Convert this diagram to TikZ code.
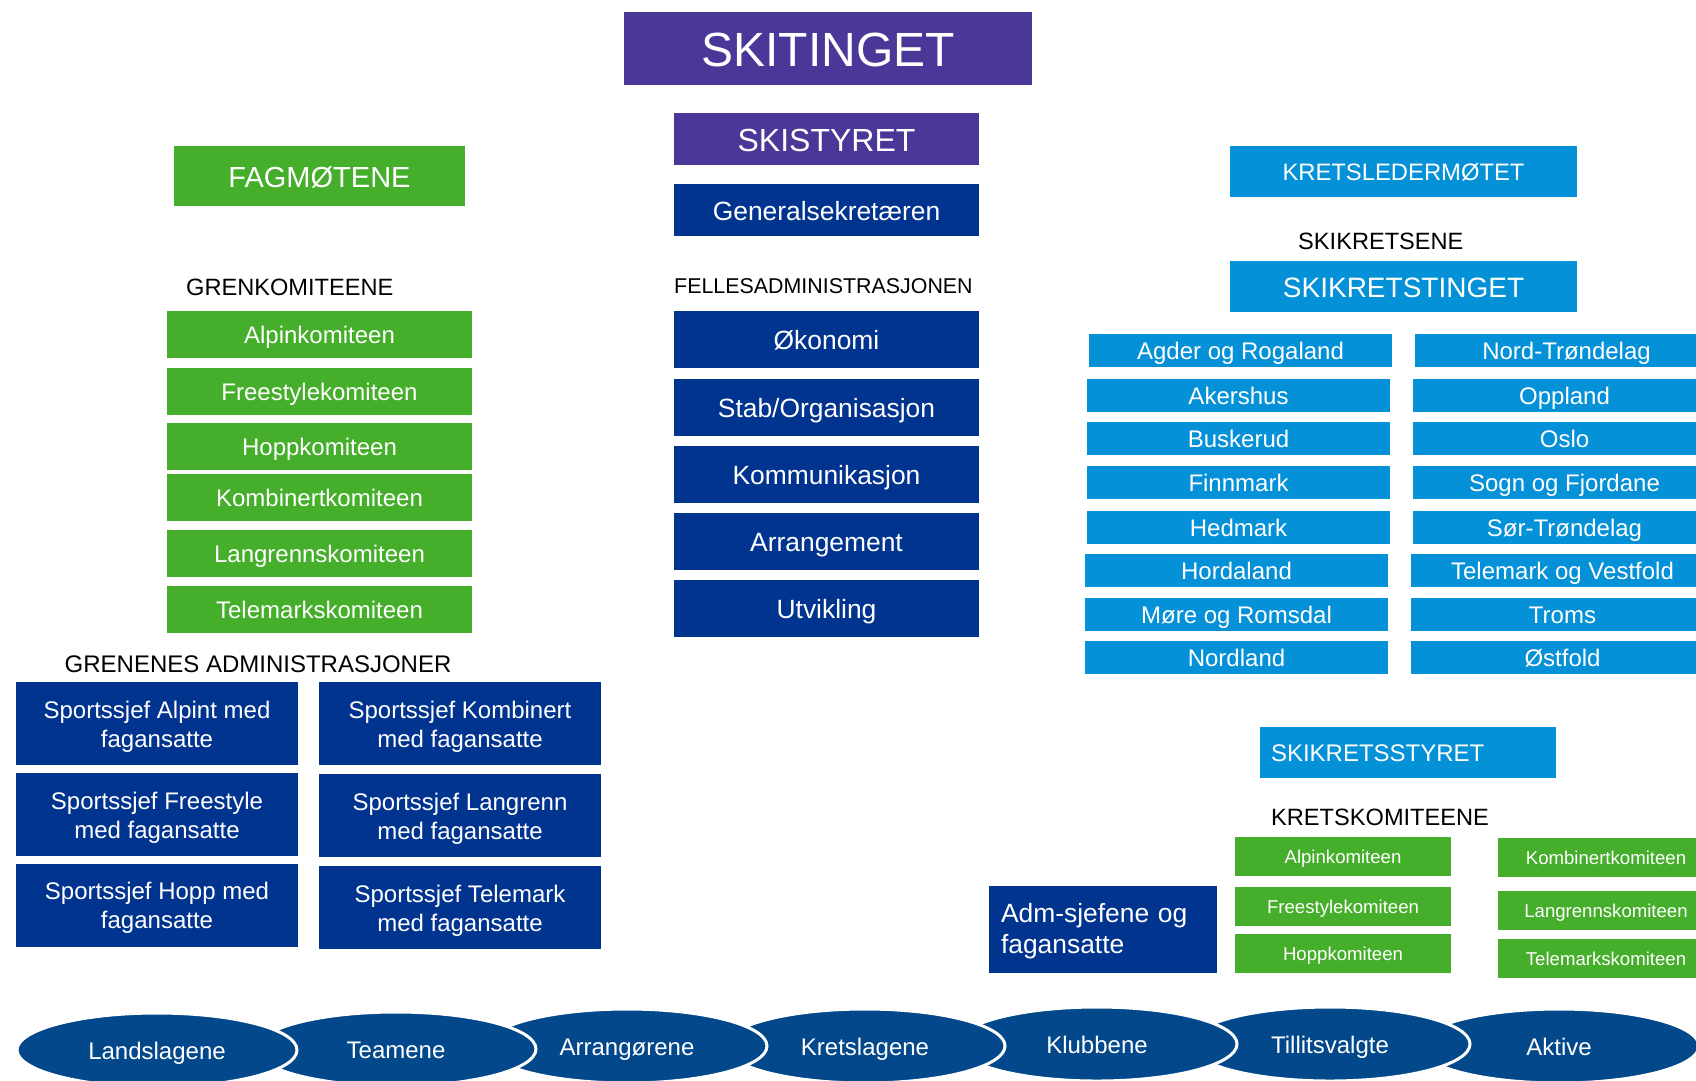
\documentclass[tikz,border=0pt]{standalone}
\usepackage{fontspec}
\setmainfont{Liberation Sans}
\usetikzlibrary{shapes.geometric}
\definecolor{skipurple}{HTML}{4A3797}
\definecolor{skinavy}{HTML}{00348F}
\definecolor{skigreen}{HTML}{45AF2B}
\definecolor{skisky}{HTML}{0591D8}
\definecolor{skioval}{HTML}{03488B}
\newcommand{\colw}{305pt}
\newcommand{\regw}{303pt}
\newcommand{\regh}{33pt}
\newcommand{\sjefw}{282pt}
\newcommand{\smallw}{216pt}
\tikzset{
  txt/.style 2 args={font=\fontsize{#1}{#2}\selectfont, text height=0.82*#1pt, text depth=0.05*#1pt},
  plate/.style={rectangle, inner sep=0pt, outer sep=0pt, text=white, align=center},
  purpleplate/.style={plate, fill=skipurple},
  navyplate/.style={plate, fill=skinavy},
  greenplate/.style={plate, fill=skigreen},
  skyplate/.style={plate, fill=skisky},
  sjefplate/.style={navyplate, txt={24}{29}, text height=48.7pt, minimum width=\sjefw, minimum height=83pt},
  tag/.style={inner sep=0pt, anchor=base west, text=black, font=\fontsize{23.6}{28}\selectfont},
  oval/.style={ellipse, fill=skioval, draw=white, line width=3pt, minimum width=280pt, minimum height=74pt, inner sep=0pt, text=white, txt={24}{29}}
}
\begin{document}
\begin{tikzpicture}[x=1pt, y=-1pt]
\clip (0,0) rectangle (1696,1080);
%skitinget
\node[purpleplate, txt={48}{58}, minimum width=408pt, minimum height=73pt] (skiting) at (828, 48.5) {SKITINGET};
\node[purpleplate, txt={32}{38}, minimum width=\colw, minimum height=52pt] (skistyret) at (826.5, 139) {SKISTYRET};
\node[navyplate, txt={26.4}{32}, minimum width=\colw, minimum height=52pt] (gensek) at (826.5, 210) {Generalsekretæren};
%fellesadministrasjonen
\node[tag, font=\fontsize{21.4}{26}\selectfont] (felles) at (674, 293.3) {FELLESADMINISTRASJONEN};
\node[navyplate, txt={26.4}{32}, minimum width=\colw, minimum height=57pt] (okonomi) at (826.5, 339.5) {Økonomi};
\node[navyplate, txt={26.4}{32}, minimum width=\colw, minimum height=57pt] (stab) at (826.5, 407.5) {Stab/Organisasjon};
\node[navyplate, txt={26.4}{32}, minimum width=\colw, minimum height=57pt] (kommunikasjon) at (826.5, 474.5) {Kommunikasjon};
\node[navyplate, txt={26.4}{32}, minimum width=\colw, minimum height=57pt] (arrangement) at (826.5, 541.5) {Arrangement};
\node[navyplate, txt={26.4}{32}, minimum width=\colw, minimum height=57pt] (utvikling) at (826.5, 608.5) {Utvikling};
%fagmotene
\node[greenplate, txt={29}{35}, minimum width=291pt, minimum height=60pt] (fagmotene) at (319.5, 176) {FAGMØTENE};
\node[tag] (grenkom) at (186, 295.7) {GRENKOMITEENE};
\node[greenplate, txt={24}{29}, minimum width=\colw, minimum height=47pt] (alpin) at (319.5, 334.5) {Alpinkomiteen};
\node[greenplate, txt={24}{29}, minimum width=\colw, minimum height=47pt] (freestyle) at (319.5, 391.5) {Freestylekomiteen};
\node[greenplate, txt={24}{29}, minimum width=\colw, minimum height=47pt] (hopp) at (319.5, 446.5) {Hoppkomiteen};
\node[greenplate, txt={24}{29}, minimum width=\colw, minimum height=47pt] (kombinert) at (319.5, 497.5) {Kombinertkomiteen};
\node[greenplate, txt={24}{29}, minimum width=\colw, minimum height=47pt] (langrenn) at (319.5, 553.5) {Langrennskomiteen};
\node[greenplate, txt={24}{29}, minimum width=\colw, minimum height=47pt] (telemark) at (319.5, 609.5) {Telemarkskomiteen};
%grenenes administrasjoner
\node[tag, font=\fontsize{24}{29}\selectfont] (grenadm) at (64.5, 672.3) {GRENENES ADMINISTRASJONER};
\node[sjefplate] (sjefalpin) at (157, 723.5) {Sportssjef Alpint med\\fagansatte};
\node[sjefplate] (sjefkombinert) at (460, 723.5) {Sportssjef Kombinert\\med fagansatte};
\node[sjefplate] (sjeffreestyle) at (157, 814.5) {Sportssjef Freestyle\\med fagansatte};
\node[sjefplate] (sjeflangrenn) at (460, 815.5) {Sportssjef Langrenn\\med fagansatte};
\node[sjefplate] (sjefhopp) at (157, 905) {Sportssjef Hopp med\\fagansatte};
\node[sjefplate] (sjeftelemark) at (460, 907.5) {Sportssjef Telemark\\med fagansatte};
%skikretsene
\node[skyplate, txt={23.8}{29}, minimum width=347pt, minimum height=51pt] (kretsleder) at (1403.5, 171.5) {KRETSLEDERMØTET};
\node[tag] (skikretsene) at (1298, 249) {SKIKRETSENE};
\node[skyplate, txt={28}{34}, minimum width=347pt, minimum height=51pt] (kretsting) at (1403.5, 286.5) {SKIKRETSTINGET};
\node[skyplate, txt={24}{29}, minimum width=\regw, minimum height=\regh] (agder) at (1240.5, 350.5) {Agder og Rogaland};
\node[skyplate, txt={24}{29}, minimum width=\regw, minimum height=\regh] (akershus) at (1238.5, 395) {Akershus};
\node[skyplate, txt={24}{29}, minimum width=\regw, minimum height=\regh] (buskerud) at (1238.5, 438.5) {Buskerud};
\node[skyplate, txt={24}{29}, minimum width=\regw, minimum height=\regh] (finnmark) at (1238.5, 482.5) {Finnmark};
\node[skyplate, txt={24}{29}, minimum width=\regw, minimum height=\regh] (hedmark) at (1238.5, 527) {Hedmark};
\node[skyplate, txt={24}{29}, minimum width=\regw, minimum height=\regh] (hordaland) at (1236.5, 570.5) {Hordaland};
\node[skyplate, txt={24}{29}, minimum width=\regw, minimum height=\regh] (more) at (1236.5, 614) {Møre og Romsdal};
\node[skyplate, txt={24}{29}, minimum width=\regw, minimum height=\regh] (nordland) at (1236.5, 657.5) {Nordland};
\node[skyplate, txt={24}{29}, minimum width=\regw, minimum height=\regh] (nordtrond) at (1566.5, 350.5) {Nord-Trøndelag};
\node[skyplate, txt={24}{29}, minimum width=\regw, minimum height=\regh] (oppland) at (1564.5, 395) {Oppland};
\node[skyplate, txt={24}{29}, minimum width=\regw, minimum height=\regh] (oslo) at (1564.5, 438.5) {Oslo};
\node[skyplate, txt={24}{29}, minimum width=\regw, minimum height=\regh] (sogn) at (1564.5, 482.5) {Sogn og Fjordane};
\node[skyplate, txt={24}{29}, minimum width=\regw, minimum height=\regh] (sortrond) at (1564.5, 527) {Sør-Trøndelag};
\node[skyplate, txt={24}{29}, minimum width=\regw, minimum height=\regh] (televest) at (1562.5, 570.5) {Telemark og Vestfold};
\node[skyplate, txt={24}{29}, minimum width=\regw, minimum height=\regh] (troms) at (1562.5, 614) {Troms};
\node[skyplate, txt={24}{29}, minimum width=\regw, minimum height=\regh] (ostfold) at (1562.5, 657.5) {Østfold};
%kretsstyret
\node[skyplate, txt={24}{29}, align=left, text width=274pt, inner xsep=11pt, minimum height=51pt] (kretsstyret) at (1408, 752.5) {SKIKRETSSTYRET};
\node[tag] (kretskom) at (1271, 825) {KRETSKOMITEENE};
\node[greenplate, txt={18.6}{22}, minimum width=\smallw, minimum height=39pt] (kalpin) at (1343, 856.5) {Alpinkomiteen};
\node[greenplate, txt={18.6}{22}, minimum width=\smallw, minimum height=39pt] (kfreestyle) at (1343, 906.5) {Freestylekomiteen};
\node[greenplate, txt={18.6}{22}, minimum width=\smallw, minimum height=39pt] (khopp) at (1343, 953.5) {Hoppkomiteen};
\node[greenplate, txt={18.6}{22}, minimum width=\smallw, minimum height=39pt] (kkombinert) at (1606, 857.5) {Kombinertkomiteen};
\node[greenplate, txt={18.6}{22}, minimum width=\smallw, minimum height=39pt] (klangrenn) at (1606, 910.5) {Langrennskomiteen};
\node[greenplate, txt={18.6}{22}, minimum width=\smallw, minimum height=39pt] (ktelemark) at (1606, 958.5) {Telemarkskomiteen};
\node[navyplate, txt={26.4}{31}, text height=18pt, text depth=32.3pt, align=left, text width=204pt, inner xsep=12pt, minimum height=87pt] (adm) at (1103, 929.5) {Adm-sjefene og\\fagansatte};
%grunnplan, right to left so the left one lies on top
\node[oval] (aktive) at (1559, 1046) {Aktive};
\node[oval] (tillit) at (1330, 1044) {Tillitsvalgte};
\node[oval] (klubb) at (1097, 1044) {Klubbene};
\node[oval] (kretslag) at (865, 1046) {Kretslagene};
\node[oval] (arrangor) at (627, 1046) {Arrangørene};
\node[oval] (team) at (396, 1049) {Teamene};
\node[oval] (landslag) at (157, 1050) {Landslagene};
\end{tikzpicture}
\end{document}
